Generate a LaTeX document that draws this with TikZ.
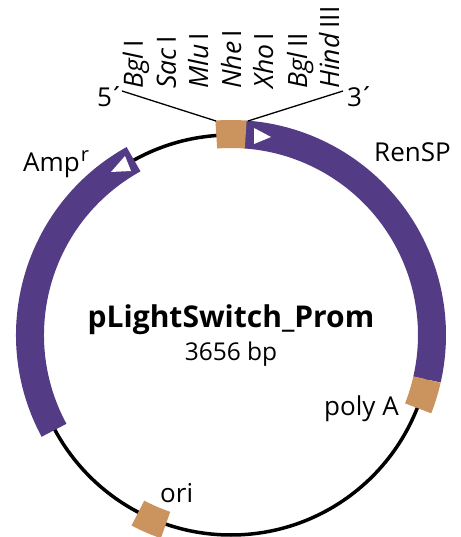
\documentclass[tikz,border=0pt]{standalone}
\usepackage{fontspec}
\setmainfont{Open Sans}

\begin{document}
\begin{tikzpicture}[
  x=1pt,y=1pt,
  backbone/.style={line width=3.5pt},
  gene/.style={line width=28pt, draw=plasmidpurple},
  site/.style={line width=28pt, draw=plasmidgold},
  direction/.style={fill=white},
  lbl/.style={anchor=base west,inner sep=0pt,font=\fontsize{26}{26}\selectfont},
  enzyme/.style={lbl,rotate=90,font=\fontsize{26.5}{26.5}\selectfont},
  link/.style={line width=1.3pt}]

\definecolor{plasmidpurple}{HTML}{533C85}
\definecolor{plasmidgold}{HTML}{CB945E}

\useasboundingbox (-231,-202) rectangle (229,335);

% The backbone, then the genes and the sites on top of it
\draw [backbone] (0,0) circle [radius=200];
\draw [gene] (86:201) arc [start angle=86,end angle=-12.8,radius=201];
\draw [gene] (119:201) arc [start angle=119,end angle=208.3,radius=201];
\draw [site] (94.2:201) arc [start angle=94.2,end angle=85.8,radius=201];
\draw [site] (-12.8:201) arc [start angle=-12.8,end angle=-21.4,radius=201];
\draw [site] (242.4:201) arc [start angle=242.4,end angle=251,radius=201];

% Direction marks inside the genes
\fill [direction] (23,207) -- (40,198) -- (23,191) -- cycle;
\fill [direction] (-106,179) -- (-100,164) -- (-120,163) -- cycle;

% The cloning site names
\foreach \x/\sitename in {-88/\textit{Bgl}\,I,-55/\textit{Sac}\,I,-23/\textit{Mlu}\,I,10/\textit{Nhe}\,I,42/\textit{Xho}\,I,76/\textit{Bgl}\,II,108/\textit{Hind}\,III}
  \node [enzyme] at (\x,246) {\sitename};

\coordinate (siteleft) at (-15,214);
\coordinate (siteright) at (17,214);
\coordinate (fiveend) at (-109,244);
\coordinate (threeend) at (112,244);
\draw [link] (fiveend) -- (siteleft);
\draw [link] (threeend) -- (siteright);

\node [lbl] (five) at (-134,228) {5\kern-3pt´};
\node [lbl] (three) at (116,228) {3\kern-3pt´};
\node [lbl] (amp) at (-208,163) {Amp\kern1pt\raisebox{10pt}{\fontsize{20}{20}\selectfont r}};
\node [lbl] (ren) at (143,173) {RenSP};
\node [lbl] (polya) at (93,-81) {poly A};
\node [lbl] (ori) at (-71,-167) {ori};

\node [font=\fontsize{30}{30}\selectfont\bfseries,anchor=base,inner sep=0pt] (title) at (0,7) {pLightSwitch\_Prom};
\node [lbl,anchor=base,font=\fontsize{24.5}{24.5}\selectfont] (size) at (0,-26) {3656 bp};

\end{tikzpicture}
\end{document}
